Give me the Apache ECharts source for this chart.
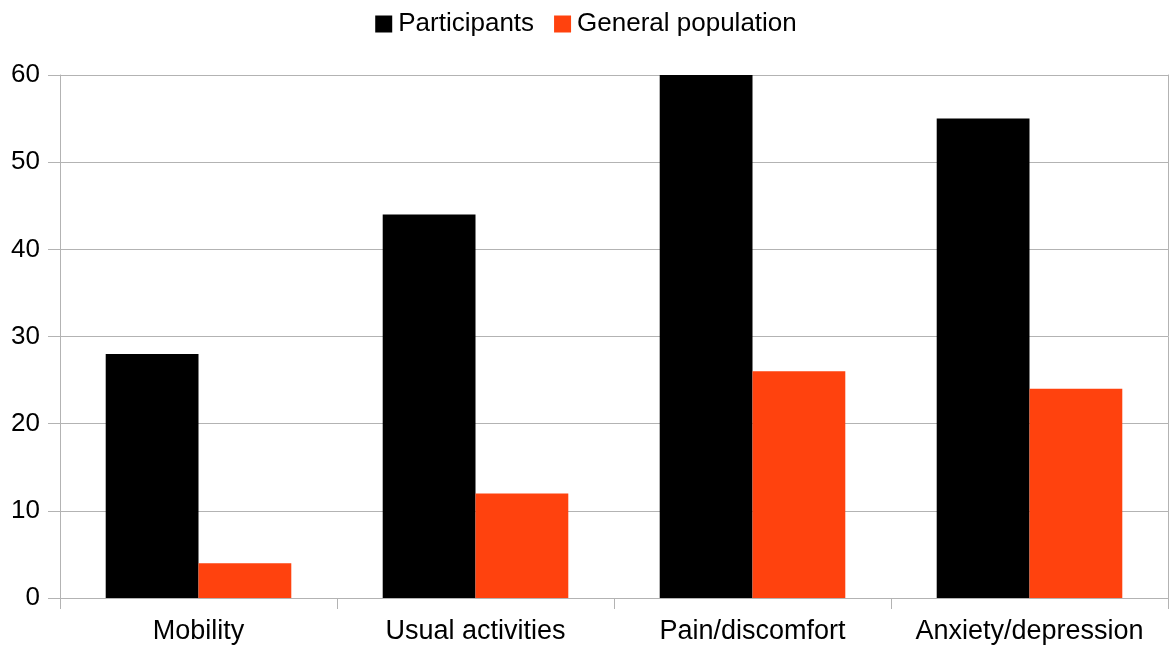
<!DOCTYPE html>
<html>
<head>
<meta charset="utf-8">
<script src="https://cdn.jsdelivr.net/npm/echarts@6/dist/echarts.min.js"></script>
<style>
  html, body { margin: 0; padding: 0; background: #ffffff; }
  #chart { width: 1172px; height: 645px; }
</style>
</head>
<body>
<div id="chart"></div>
<script>
// EQ-5D dimensions: share reporting problems (%)
const categories = ['Mobility', 'Usual activities', 'Pain/discomfort', 'Anxiety/depression'];
const participants = [28, 44, 60, 55];
const generalPopulation = [4, 12, 26, 24];
const yTicks = { min: 0, max: 60, interval: 10 };

const gridColor = '#b3b3b3';
const font = '"Liberation Sans", Arial, sans-serif';

const chart = echarts.init(document.getElementById('chart'), null, { renderer: 'canvas' });
chart.setOption({
  animation: false,
  backgroundColor: '#ffffff',
  textStyle: { fontFamily: font },
  legend: {
    top: 6,
    left: 'center',
    itemWidth: 17,
    itemHeight: 17,
    itemGap: 20,
    icon: 'rect',
    textStyle: { fontSize: 26, color: '#000000', fontFamily: font, padding: [0, 0, 0, 1] },
    data: ['Participants', 'General population']
  },
  grid: { left: 60, right: 4, top: 75, bottom: 45, containLabel: false },
  xAxis: {
    type: 'category',
    data: categories,
    axisLine: { show: true, lineStyle: { color: gridColor, width: 1 } },
    axisTick: { show: true, interval: 0, length: 11, lineStyle: { color: gridColor } },
    axisLabel: {
      interval: 0,
      hideOverlap: false,
      fontSize: 27,
      color: '#000000',
      margin: 20,
      fontFamily: font
    }
  },
  yAxis: [
    {
      type: 'value',
      min: yTicks.min,
      max: yTicks.max,
      interval: yTicks.interval,
      axisLine: { show: true, lineStyle: { color: gridColor, width: 1 } },
      axisTick: { show: true, length: 12, lineStyle: { color: gridColor } },
      axisLabel: { fontSize: 26, color: '#000000', margin: 20, fontFamily: font },
      splitLine: { show: true, lineStyle: { color: gridColor, width: 1 } }
    },
    {
      type: 'value',
      position: 'right',
      min: yTicks.min,
      max: yTicks.max,
      interval: yTicks.interval,
      axisLine: { show: true, lineStyle: { color: gridColor, width: 1 } },
      axisTick: { show: false },
      axisLabel: { show: false },
      splitLine: { show: false }
    }
  ],
  series: [
    {
      name: 'Participants',
      type: 'bar',
      data: participants,
      itemStyle: { color: '#000000' },
      barGap: '0%',
      barCategoryGap: '33%'
    },
    {
      name: 'General population',
      type: 'bar',
      data: generalPopulation,
      itemStyle: { color: '#ff420e' },
      barGap: '0%',
      barCategoryGap: '33%'
    }
  ]
});
</script>
</body>
</html>
